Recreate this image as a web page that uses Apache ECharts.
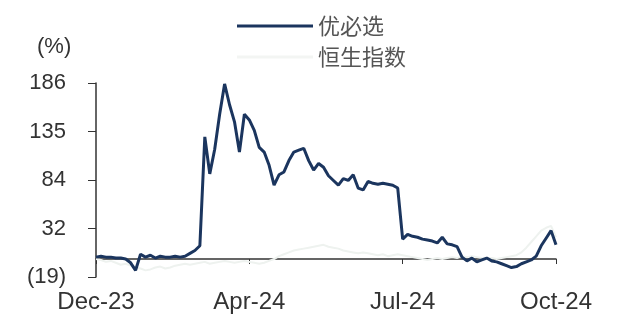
<!DOCTYPE html>
<html>
<head>
<meta charset="utf-8">
<script src="https://cdn.jsdelivr.net/npm/echarts@6/dist/echarts.min.js"></script>
<style>
html,body{margin:0;padding:0;background:#fff;}
#c{width:634px;height:322px;}
</style>
</head>
<body>
<div id="c"></div>
<script>
// Tick labels
var xTickLabels = ['Dec-23', 'Apr-24', 'Jul-24', 'Oct-24'];
var yTickLabels = ['(19)', '32', '84', '135', '186'];
var seriesNames = ['优必选', '恒生指数'];

// 优必选 relative performance (%)
var ubtech = [
  2, 3, 2, 2, 1, 1, 0, -4, -12, 5, 2,
  4, 1, 3, 2, 2, 3, 2, 3, 6, 9,
  14, 129, 90, 116, 153, 185, 163, 145, 113, 153, 147,
  136, 118, 113, 99, 78, 89, 92, 104, 113, 115,
  117, 104, 94, 101, 97, 88, 83, 78, 85, 83,
  89, 75, 73, 82, 80, 79, 80, 79, 78, 75,
  21, 26, 24, 23, 21, 20, 19, 17, 23, 16, 15,
  13, 2, -2, 1, -3, -1, 1, -2, -3, -5,
  -7, -9, -8, -5, -3, -1, 3, 14, 22, 30, 15
];

// 恒生指数 relative performance (%), faint line in the picture
var hsi = [
  0, -1, -3, -2, -4, -6, -5, -7, -9, -10, -12,
  -11, -9, -8, -10, -9, -7, -6, -5, -6, -5,
  -4, -3, -5, -4, -3, -2, -3, -4, -3, -2, -3,
  -4, -5, -4, -2, 0, 3, 5, 7, 9, 10, 11, 12, 13, 14, 15,
  13, 12, 11, 9, 8, 7, 6, 7, 6, 5, 4, 5, 3, 4, 5, 4,
  3, 2, 1, 0, -1, 0, 1, 0, 1, 2, 1, 3, 2, 3, 2, 1,
  0, 1, 0, 1, 2, 3, 4, 7, 12, 18, 24, 30, 33, 35, 23
];

var labelStep = 31;
var categories = ubtech.map(function (v, i) { return i; });

var chart = echarts.init(document.getElementById('c'), null, {renderer: 'canvas'});
chart.setOption({
  backgroundColor: '#ffffff',
  animation: false,
  grid: {left: 96, right: 78, top: 83, bottom: 45, containLabel: false},
  legend: {
    orient: 'vertical',
    left: 232,
    top: 10,
    itemWidth: 76,
    itemHeight: 14,
    itemGap: 9,
    icon: 'path://M0,6H76V9H0Z',
    textStyle: {fontFamily: 'Noto Sans CJK SC', fontSize: 22, color: '#555'},
    data: seriesNames
  },
  graphic: [{
    type: 'text', left: 37, top: 36,
    style: {text: '(%)', font: '22px "Liberation Sans", Arial', fill: '#333'}
  }],
  xAxis: {
    type: 'category',
    data: categories,
    boundaryGap: false,
    axisLine: {lineStyle: {color: '#333', width: 1.5}},
    axisTick: {show: true, interval: labelStep - 1, length: 5, lineStyle: {color: '#333'}},
    axisLabel: {
      interval: labelStep - 1,
      margin: 13,
      fontFamily: 'Liberation Sans',
      fontSize: 24,
      color: '#333',
      formatter: function (v, idx) { return xTickLabels[Math.round(idx / labelStep)] || ''; }
    },
    splitLine: {show: false}
  },
  yAxis: {
    type: 'value',
    min: -19,
    max: 186,
    interval: 51.25,
    axisLine: {show: true, lineStyle: {color: '#333', width: 1.5}},
    axisTick: {show: true, length: 8, lineStyle: {color: '#333'}},
    axisLabel: {
      margin: 30,
      fontFamily: 'Liberation Sans',
      fontSize: 22,
      color: '#333',
      formatter: function (v, idx) { return yTickLabels[idx]; }
    },
    splitLine: {show: false}
  },
  series: [
    {
      name: seriesNames[0],
      type: 'line',
      data: ubtech,
      symbol: 'none',
      z: 3,
      lineStyle: {color: '#1b355e', width: 3},
      itemStyle: {color: '#1b355e'}
    },
    {
      name: seriesNames[1],
      type: 'line',
      data: hsi,
      symbol: 'none',
      z: 2,
      lineStyle: {color: '#eef2ef', width: 2},
      itemStyle: {color: '#f3f5f3'}
    }
  ]
});
</script>
</body>
</html>
